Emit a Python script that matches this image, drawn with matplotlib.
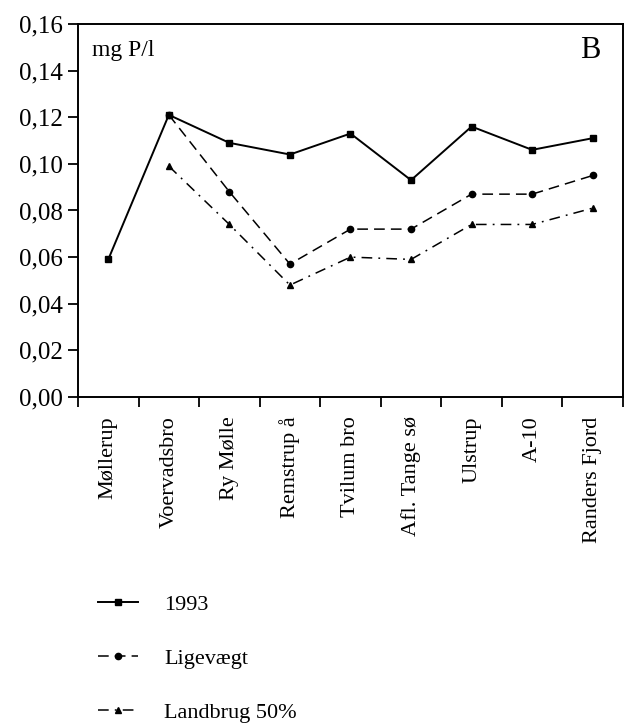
import numpy as np
import matplotlib
matplotlib.use("Agg")
import matplotlib.pyplot as plt
from matplotlib.ticker import FixedLocator, FuncFormatter

plt.rcParams['font.family'] = ['Liberation Serif', 'DejaVu Serif']

stations = ['Møllerup', 'Voervadsbro', 'Ry Mølle', 'Remstrup å', 'Tvilum bro',
            'Afl. Tange sø', 'Ulstrup', 'A-10', 'Randers Fjord']
p_1993 = [0.059, 0.121, 0.109, 0.104, 0.113, 0.093, 0.116, 0.106, 0.111]
p_ligevaegt = [np.nan, 0.121, 0.088, 0.057, 0.072, 0.072, 0.087, 0.087, 0.095]
p_landbrug = [np.nan, 0.099, 0.074, 0.048, 0.060, 0.059, 0.074, 0.074, 0.081]
y_ticks = [0.00, 0.02, 0.04, 0.06, 0.08, 0.10, 0.12, 0.14, 0.16]

fig = plt.figure(figsize=(6.27, 7.24), dpi=100)
ax = fig.add_axes([0.1244, 0.4517, 0.8692, 0.5152])

x = np.arange(len(stations))
ax.plot(x, p_1993, color='black', lw=1.4, ls='-', marker='s', ms=5,
        label='1993', zorder=3)
ax.plot(x, p_ligevaegt, color='black', lw=1.1, ls=(0, (7, 4)), marker='o', ms=4.5,
        label='Ligevægt', zorder=2)
ax.plot(x, p_landbrug, color='black', lw=1.1, ls=(0, (7, 4, 1.2, 4)), marker='^', ms=4.5,
        label='Landbrug 50%', zorder=2)

ax.set_xlim(-0.5, len(stations) - 0.5)
ax.set_ylim(0, 0.16)

# station names sit between the tick marks, ticks mark the category borders
ax.set_xticks(x)
ax.set_xticklabels(stations, rotation=90, va='top', ha='center', fontsize=16)
ax.xaxis.set_minor_locator(FixedLocator(np.arange(-0.5, len(stations), 1.0)))
ax.tick_params(axis='x', which='major', length=0, pad=14)
ax.tick_params(axis='x', which='minor', length=7, width=1.3, direction='out')

ax.set_yticks(y_ticks)
ax.yaxis.set_major_formatter(FuncFormatter(lambda v, _: f"{v:.2f}".replace('.', ',')))
ax.tick_params(axis='y', length=7, width=1.3, direction='out', pad=4, labelsize=18)

for sp in ax.spines.values():
    sp.set_linewidth(1.4)

ax.text(0.025, 0.93, 'mg P/l', transform=ax.transAxes, fontsize=17,
        ha='left', va='center')
ax.text(0.94, 0.93, 'B', transform=ax.transAxes, fontsize=22,
        ha='center', va='center')

fig.legend(loc='upper left', bbox_to_anchor=(0.156, 0.179), frameon=False,
           fontsize=16, handlelength=1.8, handletextpad=1.2, labelspacing=1.5,
           borderpad=0, borderaxespad=0)

fig.savefig('out.png', dpi=100)
